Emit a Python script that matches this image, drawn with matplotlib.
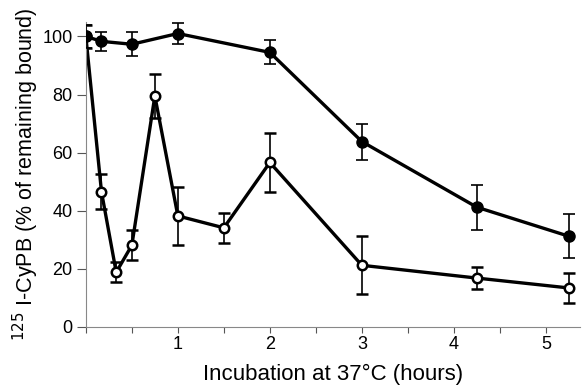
import numpy as np
import matplotlib
matplotlib.use('Agg')
from matplotlib import pyplot as plt

plt.rcParams['font.family'] = ['Liberation Sans', 'DejaVu Sans']

# incubation time (hours)
time_filled = [0, 0.17, 0.5, 1.0, 2.0, 3.0, 4.25, 5.25]
bound_filled = [100, 98.3, 97.3, 101, 94.5, 63.8, 41.2, 31.2]
err_filled = [4, 3.3, 4.2, 3.5, 4.1, 6.2, 7.7, 7.6]

time_open = [0, 0.17, 0.33, 0.5, 0.75, 1.0, 1.5, 2.0, 3.0, 4.25, 5.25]
bound_open = [100, 46.5, 18.8, 28.1, 79.5, 38.2, 34.1, 56.6, 21.2, 16.8, 13.4]
err_open = [4, 6.0, 3.4, 5.2, 7.6, 10.0, 5.1, 10.1, 10.0, 3.9, 5.1]

yticks = [0, 20, 40, 60, 80, 100]
xticks = [1, 2, 3, 4, 5]

fig = plt.figure(figsize=(5.84, 3.91), dpi=100)
ax = fig.add_axes([0.147, 0.164, 0.846, 0.78])

ax.errorbar(time_filled, bound_filled, yerr=err_filled, color='black', lw=2.4,
            marker='o', ms=8, mfc='black', mec='black',
            elinewidth=1.2, capsize=4.3, capthick=1.2, zorder=3)
ax.errorbar(time_open, bound_open, yerr=err_open, color='black', lw=2.4,
            marker='o', ms=6.8, mfc='white', mec='black', mew=1.8,
            elinewidth=1.2, capsize=4.3, capthick=1.2, zorder=2)

ax.set_xlim(0, 5.37)
ax.set_ylim(0, 105)
ax.spines['top'].set_visible(False)
ax.spines['right'].set_visible(False)
ax.spines['left'].set_color('#888888')
ax.spines['bottom'].set_color('#888888')
ax.spines['left'].set_linewidth(0.8)
ax.spines['bottom'].set_linewidth(0.8)

ax.set_xticks(xticks)
ax.set_xticks(np.arange(0, 5.5, 0.5), minor=True)
ax.set_yticks(yticks)
ax.tick_params(axis='x', which='both', direction='out', length=4.5, width=0.8,
               color='#555555', labelsize=13, pad=2)
ax.tick_params(axis='y', direction='out', length=6.5, width=0.8,
               color='#555555', labelsize=13, pad=3)

ax.set_xlabel('Incubation at 37°C (hours)', fontsize=16, labelpad=8)
ax.set_ylabel(r'$^{125}$ I-CyPB (% of remaining bound)', fontsize=15.5, labelpad=1)

plt.savefig('out.png', dpi=100)
